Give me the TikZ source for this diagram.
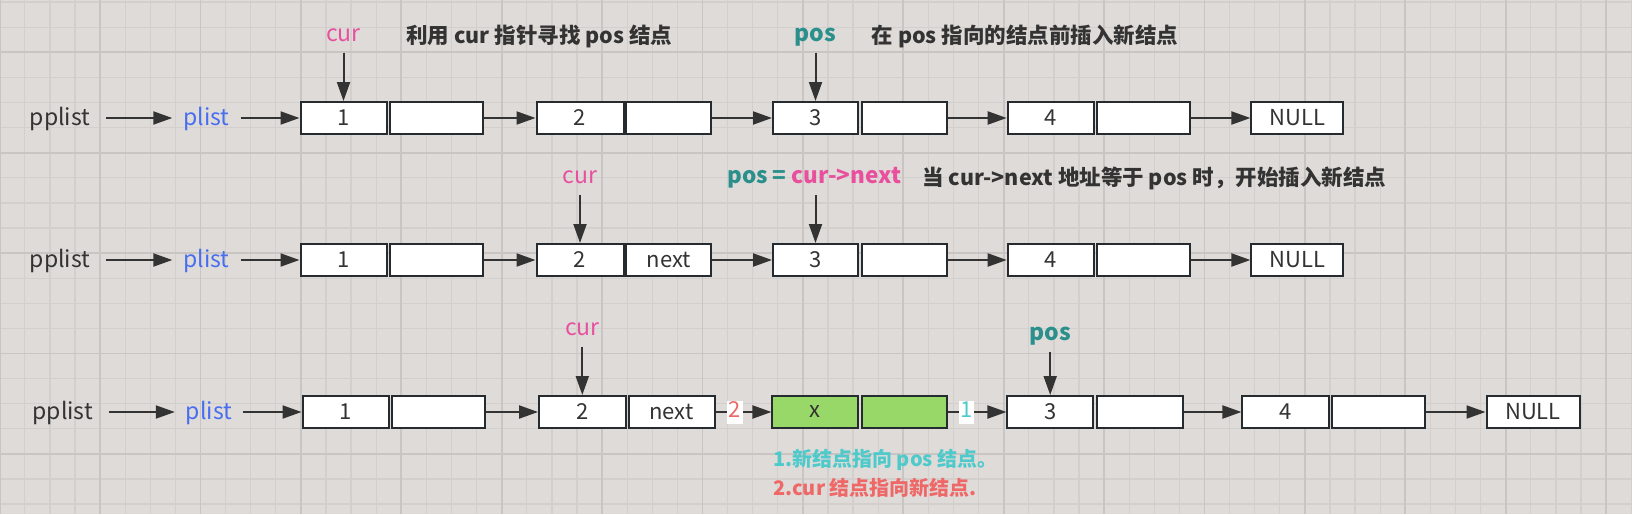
\documentclass[tikz,border=0pt]{standalone}
\usepackage{fontspec}
\setmainfont{Noto Sans CJK SC}
\usetikzlibrary{arrows.meta}
\definecolor{bgc}{HTML}{DFDBD9}
\definecolor{gmin}{HTML}{D3CFCD}
\definecolor{gmaj}{HTML}{C9C5C3}
\definecolor{boxc}{HTML}{262B30}
\definecolor{arrc}{HTML}{333333}
\definecolor{txt}{HTML}{333333}
\definecolor{plc}{HTML}{486EF0}
\definecolor{curc}{HTML}{E8509E}
\definecolor{posc}{HTML}{2B908C}
\definecolor{cyc}{HTML}{4ECACB}
\definecolor{rdc}{HTML}{EE6868}
\definecolor{grn}{HTML}{97D869}
\newcommand\lblfont{\fontsize{23}{27}\selectfont}
\newcommand\boxfont{\fontsize{22}{26}\selectfont}
\newcommand\ttlfont{\fontsize{21.5}{25}\selectfont\bfseries}
\newcommand\notefont{\fontsize{20}{24}\selectfont\bfseries}
\begin{document}
\begin{tikzpicture}[x=1pt,y=-1pt,
  box/.style={draw=boxc, line width=2pt, fill=white, minimum height=32pt, inner sep=0pt, font=\boxfont, text=txt},
  gbox/.style={box, fill=grn},
  lbl/.style={font=\lblfont, inner sep=0pt, text height=16pt, text depth=5pt},
  pplbl/.style={font=\lblfont, inner sep=0pt, text height=18pt, text depth=3pt, text=txt, minimum width=92pt},
  pllbl/.style={pplbl, text=plc, minimum width=68pt},
  curlbl/.style={lbl, text=curc},
  poslbl/.style={lbl, text=posc, font=\lblfont\bfseries},
  ttl/.style={font=\ttlfont, text=txt, inner sep=0pt, anchor=west},
  note/.style={font=\notefont, inner sep=0pt, anchor=west},
  arr/.style={draw=arrc, line width=2pt, -{Triangle[length=19pt,width=13pt]}},
  varr/.style={arr, shorten <=6pt},
  numlbl/.style={fill=white, inner sep=1.5pt, font=\boxfont, text height=15pt, text depth=5pt}
]
\useasboundingbox (0,0) rectangle (1632,514);
\fill[bgc] (0,0) rectangle (1632,514);
% grid
\foreach \i in {0,...,65}{
  \draw[gmin, line width=1.3pt] (25.1*\i-0.3,0) -- (25.1*\i-0.3,514);
}
\foreach \j in {0,...,20}{
  \draw[gmin, line width=1.3pt] (0,2.1+25.1*\j) -- (1632,2.1+25.1*\j);
}
\foreach \i in {0,...,16}{
  \draw[gmaj, line width=1.8pt] (100.4*\i-0.3,0) -- (100.4*\i-0.3,514);
}
\foreach \j in {0,...,4}{
  \draw[gmaj, line width=1.8pt] (0,52.3+100.4*\j) -- (1632,52.3+100.4*\j);
}

% ---------- Row 1 ----------
\node[pplbl] (pp1) at (60,118) {pplist};
\node[pllbl] (pl1) at (206.5,118) {plist};
\node[box, minimum width=86pt] (a1) at (343.5,118) {1};
\node[box, minimum width=93pt] (a1n) at (436,118) {};
\node[box, minimum width=87pt] (a2) at (580,118) {2};
\node[box, minimum width=85pt] (a2n) at (668.8,118) {};
\node[box, minimum width=85pt] (a3) at (815.5,118) {3};
\node[box, minimum width=85pt] (a3n) at (904.5,118) {};
\node[box, minimum width=86pt] (a4) at (1050.7,118) {4};
\node[box, minimum width=93pt] (a4n) at (1143.3,118) {};
\node[box, minimum width=92pt] (a5) at (1297.4,118) {NULL};
\draw[arr] (pp1.east) -- (pl1.west);
\draw[arr] (pl1.east) -- (a1.west);
\draw[arr] (a1n.east) -- (a2.west);
\draw[arr] (a2n.east) -- (a3.west);
\draw[arr] (a3n.east) -- (a4.west);
\draw[arr] (a4n.east) -- (a5.west);
\node[curlbl] (cur1) at (343.5,36) {cur};
\node[poslbl] (pos1) at (815.5,36) {pos};
\draw[varr] (cur1.south) -- (a1.north);
\draw[varr] (pos1.south) -- (a3.north);
\node[ttl] (t1) at (406,36) {利用 cur 指针寻找 pos 结点};
\node[ttl] (t2) at (871.6,36) {在 pos 指向的结点前插入新结点};

% ---------- Row 2 ----------
\node[pplbl] (pp2) at (60,260) {pplist};
\node[pllbl] (pl2) at (206.5,260) {plist};
\node[box, minimum width=86pt] (b1) at (343.5,260) {1};
\node[box, minimum width=93pt] (b1n) at (436,260) {};
\node[box, minimum width=87pt] (b2) at (580,260) {2};
\node[box, minimum width=85pt] (b2n) at (668.8,260) {next};
\node[box, minimum width=85pt] (b3) at (815.5,260) {3};
\node[box, minimum width=85pt] (b3n) at (904.5,260) {};
\node[box, minimum width=86pt] (b4) at (1050.7,260) {4};
\node[box, minimum width=93pt] (b4n) at (1143.3,260) {};
\node[box, minimum width=92pt] (b5) at (1297.4,260) {NULL};
\draw[arr] (pp2.east) -- (pl2.west);
\draw[arr] (pl2.east) -- (b1.west);
\draw[arr] (b1n.east) -- (b2.west);
\draw[arr] (b2n.east) -- (b3.west);
\draw[arr] (b3n.east) -- (b4.west);
\draw[arr] (b4n.east) -- (b5.west);
\node[curlbl] (cur2) at (580,178) {cur};
\node[lbl, font=\fontsize{22.5}{26}\selectfont\bfseries, anchor=west, text=posc] (pos2) at (727,178) {pos = \textcolor{curc}{cur->next}};
\coordinate (pos2a) at (815.5,178);
\draw[varr] (cur2.south) -- (b2.north);
\draw[arr, shorten <=17pt] (pos2a) -- (b3.north);
\node[ttl] (t3) at (922,178) {当 cur->next 地址等于 pos 时，开始插入新结点};

% ---------- Row 3 ----------
\node[pplbl] (pp3) at (62.7,412) {pplist};
\node[pllbl] (pl3) at (209,412) {plist};
\node[box, minimum width=86.5pt] (c1) at (345.8,412) {1};
\node[box, minimum width=92.5pt] (c1n) at (438.5,412) {};
\node[box, minimum width=86.5pt] (c2) at (582.3,412) {2};
\node[box, minimum width=86pt] (c2n) at (671.5,412) {next};
\node[gbox, minimum width=85.5pt] (cx) at (815.2,412) {x};
\node[gbox, minimum width=85pt] (cxn) at (904.5,412) {};
\node[box, minimum width=85.5pt] (c3) at (1050.2,412) {3};
\node[box, minimum width=86.5pt] (c3n) at (1139.8,412) {};
\node[box, minimum width=86.5pt] (c4) at (1285.7,412) {4};
\node[box, minimum width=92.5pt] (c4n) at (1378.3,412) {};
\node[box, minimum width=93pt] (c5) at (1533,412) {NULL};
\draw[arr] (pp3.east) -- (pl3.west);
\draw[arr] (pl3.east) -- (c1.west);
\draw[arr] (c1n.east) -- (c2.west);
\draw[arr] (c2n.east) -- node[numlbl, text=rdc, pos=0.35] (n2) {2} (cx.west);
\draw[arr] (cxn.east) -- node[numlbl, text=cyc, pos=0.31] (n1) {1} (c3.west);
\draw[arr] (c3n.east) -- (c4.west);
\draw[arr] (c4n.east) -- (c5.west);
\node[curlbl] (cur3) at (582.3,330) {cur};
\node[poslbl] (pos3) at (1050.2,335) {pos};
\draw[varr] (cur3.south) -- (c2.north);
\draw[varr] (pos3.south) -- (c3.north);
\node[note, text=cyc] (s1) at (773,460) {1.新结点指向 pos 结点。};
\node[note, text=rdc] (s2) at (773,488) {2.cur 结点指向新结点.};
\end{tikzpicture}
\end{document}
